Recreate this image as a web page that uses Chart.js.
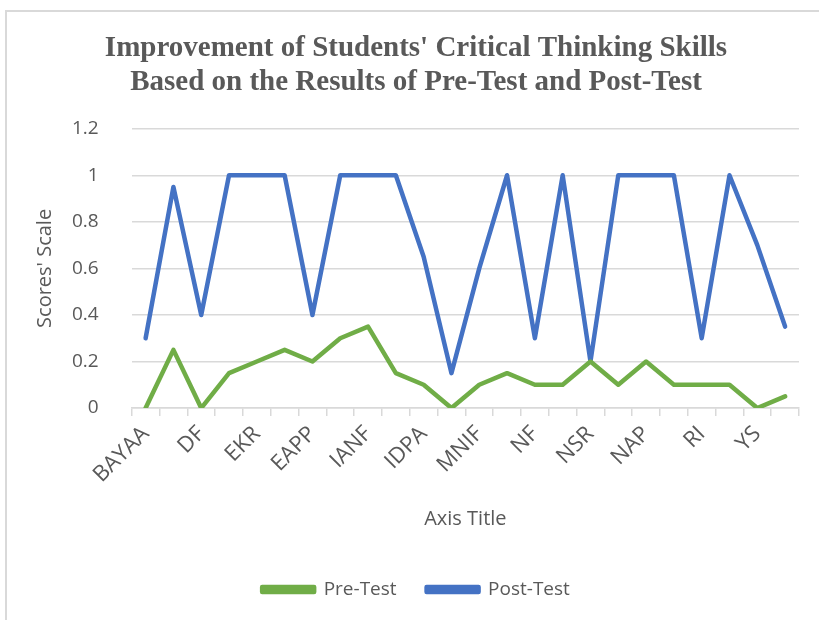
<!DOCTYPE html>
<html>
<head>
<meta charset="utf-8">
<script src="https://cdn.jsdelivr.net/npm/chart.js@4/dist/chart.umd.min.js"></script>
<style>
  body { margin: 0; background: #fff; overflow: hidden; }
  #box {
    position: absolute; left: 5px; top: 10px; width: 840px; height: 640px;
    border-left: 2px solid #d9d9d9; border-top: 2px solid #d9d9d9;
  }
  #wrap { position: absolute; left: -7px; top: -12px; width: 819px; height: 620px; }
</style>
</head>
<body>
<div id="box"><div id="wrap"><canvas id="myChart" width="819" height="620"></canvas></div></div>
<script>
// names of the students (only every other one is printed on the axis)
const students = ['BAYAA', 'DA', 'DF', 'DR', 'EKR', 'EN', 'EAPP', 'FA', 'IANF', 'IR', 'IDPA', 'MA',
  'MNIF', 'MR', 'NF', 'NH', 'NSR', 'NA', 'NAP', 'RA', 'RI', 'SA', 'YS', 'ZA'];
const preTest = [0, 0.25, 0, 0.15, 0.2, 0.25, 0.2, 0.3, 0.35, 0.15, 0.1, 0,
  0.1, 0.15, 0.1, 0.1, 0.2, 0.1, 0.2, 0.1, 0.1, 0.1, 0, 0.05];
const postTest = [0.3, 0.95, 0.4, 1, 1, 1, 0.4, 1, 1, 1, 0.65, 0.15,
  0.6, 1, 0.3, 1, 0.2, 1, 1, 1, 0.3, 1, 0.7, 0.35];
const yTicks = [0, 0.2, 0.4, 0.6, 0.8, 1, 1.2];

const grey = '#595959';
const sans = "'Open Sans', 'Liberation Sans', sans-serif";

let ctx = document.getElementById('myChart').getContext('2d');
let myChart = new Chart(ctx, {
  type: 'line',
  data: {
    labels: students,
    datasets: [{
      label: 'Pre-Test',
      data: preTest,
      borderColor: '#70ad47',
      backgroundColor: '#70ad47',
      borderWidth: 4.5,
      pointRadius: 0,
      borderCapStyle: 'round',
      borderJoinStyle: 'round'
    }, {
      label: 'Post-Test',
      data: postTest,
      borderColor: '#4472c4',
      backgroundColor: '#4472c4',
      borderWidth: 4.5,
      pointRadius: 0,
      borderCapStyle: 'round',
      borderJoinStyle: 'round'
    }]
  },
  options: {
    responsive: false,
    animation: false,
    layout: { padding: { left: 33, right: 20, top: 32, bottom: 11 } },
    plugins: {
      title: {
        display: true,
        text: ["Improvement of Students' Critical Thinking Skills", 'Based on the Results of Pre-Test and Post-Test'],
        color: grey,
        font: { family: "'Liberation Serif', 'Times New Roman', serif", size: 29, weight: 'bold', lineHeight: 1.15 },
        padding: { top: 0, bottom: 30 }
      },
      legend: {
        position: 'bottom',
        labels: {
          color: grey,
          font: { family: sans, size: 19 },
          boxWidth: 52,
          boxHeight: 5,
          padding: 30
        }
      },
      tooltip: { enabled: false }
    },
    scales: {
      x: {
        offset: true,
        grid: { offset: true, drawOnChartArea: false, color: '#d9d9d9', tickLength: 8, lineWidth: 1.5 },
        border: { color: '#d9d9d9', width: 1.5 },
        title: { display: true, text: 'Axis Title', color: grey, font: { family: sans, size: 20 }, padding: { top: 14, bottom: 19 } },
        ticks: {
          autoSkip: false,
          maxRotation: 45,
          minRotation: 45,
          padding: 5,
          color: grey,
          font: { family: sans, size: 22 },
          callback: function (val, i) { return i % 2 === 0 ? students[i] : ''; }
        }
      },
      y: {
        min: 0,
        max: 1.2,
        afterBuildTicks: function (axis) { axis.ticks = yTicks.map(v => ({ value: v })); },
        grid: { color: '#d9d9d9', lineWidth: 1.5, drawTicks: false },
        border: { display: false },
        title: { display: true, text: "Scores' Scale", color: grey, font: { family: sans, size: 20 }, padding: { top: 0, bottom: -18 } },
        ticks: {
          color: grey,
          font: { family: sans, size: 19 },
          padding: 33,
          callback: function (v) { return String(Math.round(v * 10) / 10); }
        }
      }
    }
  }
});
</script>
</body>
</html>
